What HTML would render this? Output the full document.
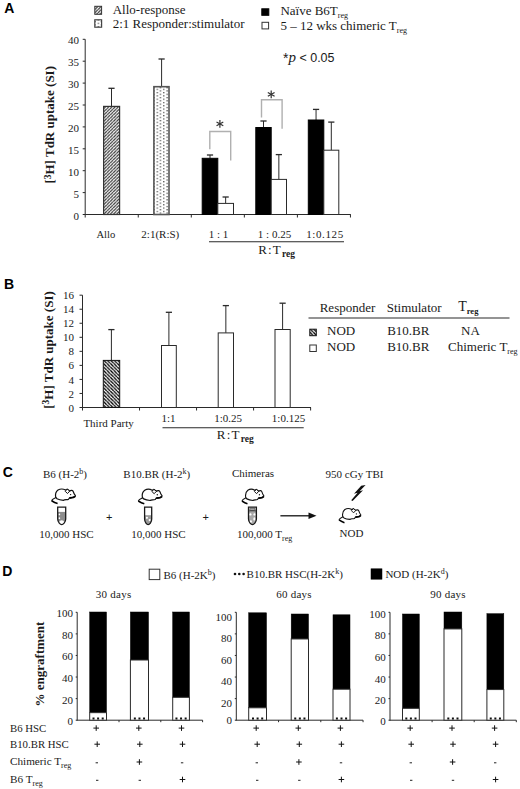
<!DOCTYPE html><html><head><meta charset="utf-8"><style>html,body{margin:0;padding:0;background:#fff;width:520px;height:789px;overflow:hidden}svg{display:block}</style></head><body>
<svg width="520" height="789" viewBox="0 0 520 789">
<defs>
<pattern id="hatchA" patternUnits="userSpaceOnUse" x="103.6" y="0" width="3.2" height="3.2"><rect width="3.2" height="3.2" fill="#fff"/><path d="M0.0,0 L-3.2,3.2 M3.2,0 L0,3.2 M6.4,0 L3.2,3.2 " stroke="#333" stroke-width="1.15" fill="none"/></pattern>
<pattern id="hatchA2" patternUnits="userSpaceOnUse" x="94.8" y="0" width="3.2" height="3.2"><rect width="3.2" height="3.2" fill="#fff"/><path d="M0.0,0 L-3.2,3.2 M3.2,0 L0,3.2 M6.4,0 L3.2,3.2 " stroke="#333" stroke-width="1.15" fill="none"/></pattern>
<pattern id="hatchB" patternUnits="userSpaceOnUse" x="103.3" y="0" width="3.46" height="3.46"><rect width="3.46" height="3.46" fill="#fff"/><path d="M-3.46,0 L0.0,3.46 M0,0 L3.46,3.46 M3.46,0 L6.92,3.46 " stroke="#000" stroke-width="1.35" fill="none"/></pattern>
<pattern id="hatchB2" patternUnits="userSpaceOnUse" x="309.8" y="0" width="3.46" height="3.46"><rect width="3.46" height="3.46" fill="#fff"/><path d="M-3.46,0 L0.0,3.46 M0,0 L3.46,3.46 M3.46,0 L6.92,3.46 " stroke="#000" stroke-width="1.35" fill="none"/></pattern>
<pattern id="dots" patternUnits="userSpaceOnUse" x="156.6" y="88.7" width="6.55" height="3.3"><rect width="6.55" height="3.3" fill="#fff"/><rect x="0" y="0" width="1.3" height="1.2" fill="#4a4a4a"/><rect x="3.27" y="1.65" width="1.3" height="1.2" fill="#4a4a4a"/></pattern>
</defs>
<rect width="520" height="789" fill="#fff"/>
<text x="4.3" y="12.9" style="font-family:'Liberation Sans',sans-serif;font-size:14px;font-weight:bold" text-anchor="start" fill="#000" >A</text>
<rect x="94.8" y="6.3" width="6.8" height="8.0" fill="url(#hatchA2)" stroke="#333" stroke-width="1"/>
<text x="112.7" y="13.8" style="font-family:'Liberation Serif',serif;font-size:13px;font-weight:normal" text-anchor="start" fill="#1a1a1a" >Allo-response</text>
<rect x="94.8" y="19.8" width="6.8" height="7.4" fill="url(#dots)" stroke="#444" stroke-width="1.2"/>
<text x="112.7" y="27.7" style="font-family:'Liberation Serif',serif;font-size:13px;font-weight:normal" text-anchor="start" fill="#1a1a1a" >2:1 Responder:stimulator</text>
<rect x="261.8" y="8.8" width="7" height="6.5" fill="#000" stroke="#000" stroke-width="1"/>
<text x="280.4" y="15.4" style="font-family:'Liberation Serif',serif;font-size:13px;font-weight:normal" text-anchor="start" fill="#1a1a1a" >Naïve B6T<tspan dy="3" style="font-size:8px">reg</tspan></text>
<rect x="262" y="22.3" width="6.6" height="6.6" fill="#fff" stroke="#333" stroke-width="1"/>
<text x="280.4" y="30.0" style="font-family:'Liberation Serif',serif;font-size:13px;font-weight:normal" text-anchor="start" fill="#1a1a1a" >5 – 12 wks chimeric  T<tspan dy="3" style="font-size:8px">reg</tspan></text>
<text x="283" y="61.5" style="font-family:'Liberation Sans',sans-serif;font-size:12.5px;font-weight:normal" text-anchor="start" fill="#1a1a1a" ><tspan style="font-size:14px" dy="1">*</tspan><tspan dy="-1" style="font-style:italic;font-family:'Liberation Serif',serif;font-size:15px">p</tspan> &lt; 0.05</text>
<line x1="85.2" y1="39.3" x2="85.2" y2="215.0" stroke="#2a2a2a" stroke-width="1"/>
<line x1="85.2" y1="214.5" x2="350.8" y2="214.5" stroke="#2a2a2a" stroke-width="1"/>
<line x1="82.7" y1="214.5" x2="85.2" y2="214.5" stroke="#2a2a2a" stroke-width="1"/>
<text x="79" y="219.5" style="font-family:'Liberation Serif',serif;font-size:11px;font-weight:normal" text-anchor="end" fill="#1a1a1a" >0</text>
<line x1="82.7" y1="192.6" x2="85.2" y2="192.6" stroke="#2a2a2a" stroke-width="1"/>
<text x="79" y="197.6" style="font-family:'Liberation Serif',serif;font-size:11px;font-weight:normal" text-anchor="end" fill="#1a1a1a" >5</text>
<line x1="82.7" y1="170.7" x2="85.2" y2="170.7" stroke="#2a2a2a" stroke-width="1"/>
<text x="79" y="175.7" style="font-family:'Liberation Serif',serif;font-size:11px;font-weight:normal" text-anchor="end" fill="#1a1a1a" >10</text>
<line x1="82.7" y1="148.8" x2="85.2" y2="148.8" stroke="#2a2a2a" stroke-width="1"/>
<text x="79" y="153.8" style="font-family:'Liberation Serif',serif;font-size:11px;font-weight:normal" text-anchor="end" fill="#1a1a1a" >15</text>
<line x1="82.7" y1="126.9" x2="85.2" y2="126.9" stroke="#2a2a2a" stroke-width="1"/>
<text x="79" y="131.9" style="font-family:'Liberation Serif',serif;font-size:11px;font-weight:normal" text-anchor="end" fill="#1a1a1a" >20</text>
<line x1="82.7" y1="105.0" x2="85.2" y2="105.0" stroke="#2a2a2a" stroke-width="1"/>
<text x="79" y="110.0" style="font-family:'Liberation Serif',serif;font-size:11px;font-weight:normal" text-anchor="end" fill="#1a1a1a" >25</text>
<line x1="82.7" y1="83.1" x2="85.2" y2="83.1" stroke="#2a2a2a" stroke-width="1"/>
<text x="79" y="88.1" style="font-family:'Liberation Serif',serif;font-size:11px;font-weight:normal" text-anchor="end" fill="#1a1a1a" >30</text>
<line x1="82.7" y1="61.2" x2="85.2" y2="61.2" stroke="#2a2a2a" stroke-width="1"/>
<text x="79" y="66.2" style="font-family:'Liberation Serif',serif;font-size:11px;font-weight:normal" text-anchor="end" fill="#1a1a1a" >35</text>
<line x1="82.7" y1="39.3" x2="85.2" y2="39.3" stroke="#2a2a2a" stroke-width="1"/>
<text x="79" y="44.3" style="font-family:'Liberation Serif',serif;font-size:11px;font-weight:normal" text-anchor="end" fill="#1a1a1a" >40</text>
<line x1="85.2" y1="214.5" x2="85.2" y2="217.5" stroke="#2a2a2a" stroke-width="1"/>
<line x1="138.25" y1="214.5" x2="138.25" y2="217.5" stroke="#2a2a2a" stroke-width="1"/>
<line x1="191.3" y1="214.5" x2="191.3" y2="217.5" stroke="#2a2a2a" stroke-width="1"/>
<line x1="244.35" y1="214.5" x2="244.35" y2="217.5" stroke="#2a2a2a" stroke-width="1"/>
<line x1="297.4" y1="214.5" x2="297.4" y2="217.5" stroke="#2a2a2a" stroke-width="1"/>
<line x1="350.45" y1="214.5" x2="350.45" y2="217.5" stroke="#2a2a2a" stroke-width="1"/>
<text transform="translate(54.3,124.8) rotate(-90)" text-anchor="middle" style="font-family:'Liberation Serif',serif;font-size:13px;font-weight:bold" fill="#1a1a1a">[<tspan dy="-3.5" style="font-size:9.5px">3</tspan><tspan dy="3.5">H] TdR uptake (SI)</tspan></text>
<line x1="111.5" y1="106.4" x2="111.5" y2="88.3" stroke="#2a2a2a" stroke-width="1"/>
<line x1="108.4" y1="88.3" x2="114.6" y2="88.3" stroke="#2a2a2a" stroke-width="1.3"/>
<rect x="103.6" y="106.4" width="16.0" height="108.1" fill="url(#hatchA)" stroke="#333" stroke-width="1.2"/>
<line x1="161.6" y1="86.7" x2="161.6" y2="59" stroke="#2a2a2a" stroke-width="1"/>
<line x1="158.5" y1="59" x2="164.7" y2="59" stroke="#2a2a2a" stroke-width="1.3"/>
<rect x="153.9" y="86.7" width="15.1" height="127.8" fill="url(#dots)" stroke="#555" stroke-width="1.6"/>
<line x1="210.0" y1="158.3" x2="210.0" y2="155" stroke="#2a2a2a" stroke-width="1"/>
<line x1="206.9" y1="155" x2="213.1" y2="155" stroke="#2a2a2a" stroke-width="1.3"/>
<line x1="225.65" y1="203.4" x2="225.65" y2="197" stroke="#2a2a2a" stroke-width="1"/>
<line x1="222.55" y1="197" x2="228.75" y2="197" stroke="#2a2a2a" stroke-width="1.3"/>
<rect x="202.2" y="158.3" width="15.6" height="56.2" fill="#000" stroke="#000" stroke-width="1"/>
<rect x="217.8" y="203.4" width="15.7" height="11.1" fill="#fff" stroke="#2a2a2a" stroke-width="1"/>
<line x1="263.5" y1="127.5" x2="263.5" y2="121" stroke="#2a2a2a" stroke-width="1"/>
<line x1="260.4" y1="121" x2="266.6" y2="121" stroke="#2a2a2a" stroke-width="1.3"/>
<line x1="278.85" y1="179.4" x2="278.85" y2="154.6" stroke="#2a2a2a" stroke-width="1"/>
<line x1="275.75" y1="154.6" x2="281.95000000000005" y2="154.6" stroke="#2a2a2a" stroke-width="1.3"/>
<rect x="255.8" y="127.5" width="15.4" height="87.0" fill="#000" stroke="#000" stroke-width="1"/>
<rect x="271.2" y="179.4" width="15.3" height="35.1" fill="#fff" stroke="#2a2a2a" stroke-width="1"/>
<line x1="316.05" y1="120" x2="316.05" y2="109.4" stroke="#2a2a2a" stroke-width="1"/>
<line x1="312.95" y1="109.4" x2="319.15000000000003" y2="109.4" stroke="#2a2a2a" stroke-width="1.3"/>
<line x1="331.3" y1="150.2" x2="331.3" y2="122.1" stroke="#2a2a2a" stroke-width="1"/>
<line x1="328.2" y1="122.1" x2="334.40000000000003" y2="122.1" stroke="#2a2a2a" stroke-width="1.3"/>
<rect x="308.3" y="120" width="15.5" height="94.5" fill="#000" stroke="#000" stroke-width="1"/>
<rect x="323.8" y="150.2" width="15.0" height="64.3" fill="#fff" stroke="#2a2a2a" stroke-width="1"/>
<polyline points="209.8,149.2 209.8,131.5 230.7,131.5 230.7,160.5" fill="none" stroke="#b0b0b0" stroke-width="1.4"/>
<polyline points="261.5,117.5 261.5,99.8 282.1,99.8 282.1,128.7" fill="none" stroke="#b0b0b0" stroke-width="1.4"/>
<line x1="219.9" y1="120.0" x2="219.9" y2="127.8" stroke="#333" stroke-width="1.2"/>
<line x1="216.52" y1="121.95" x2="223.28" y2="125.85" stroke="#333" stroke-width="1.2"/>
<line x1="223.28" y1="121.95" x2="216.52" y2="125.85" stroke="#333" stroke-width="1.2"/>
<line x1="271.2" y1="90.5" x2="271.2" y2="98.3" stroke="#333" stroke-width="1.2"/>
<line x1="267.82" y1="92.45" x2="274.58" y2="96.35" stroke="#333" stroke-width="1.2"/>
<line x1="274.58" y1="92.45" x2="267.82" y2="96.35" stroke="#333" stroke-width="1.2"/>
<text x="105.8" y="237.7" style="font-family:'Liberation Serif',serif;font-size:10.6px;font-weight:normal" text-anchor="middle" fill="#1a1a1a" >Allo</text>
<text x="160.3" y="237.7" style="font-family:'Liberation Serif',serif;font-size:11px;font-weight:normal" text-anchor="middle" fill="#1a1a1a" >2:1(R:S)</text>
<text x="218.5" y="238" style="font-family:'Liberation Serif',serif;font-size:11px;font-weight:normal" text-anchor="middle" fill="#1a1a1a" >1 : 1</text>
<text x="274.5" y="238" style="font-family:'Liberation Serif',serif;font-size:11px;font-weight:normal" text-anchor="middle" fill="#1a1a1a" >1 : 0.25</text>
<text x="325" y="238" style="font-family:'Liberation Serif',serif;font-size:11px;font-weight:normal" text-anchor="middle" fill="#1a1a1a" ><tspan style="letter-spacing:0.6px">1:0.125</tspan></text>
<line x1="209" y1="241.8" x2="344" y2="241.8" stroke="#2a2a2a" stroke-width="1.1"/>
<text x="258.2" y="254.4" style="font-family:'Liberation Serif',serif;font-size:13px;font-weight:normal" text-anchor="start" fill="#1a1a1a" ><tspan style="letter-spacing:1.2px">R:T</tspan><tspan dy="3" style="font-size:9.5px;font-weight:bold">reg</tspan></text>
<text x="4" y="288.8" style="font-family:'Liberation Sans',sans-serif;font-size:14px;font-weight:bold" text-anchor="start" fill="#000" >B</text>
<line x1="82.5" y1="295.2" x2="82.5" y2="408.0" stroke="#2a2a2a" stroke-width="1"/>
<line x1="82.5" y1="407.5" x2="311" y2="407.5" stroke="#2a2a2a" stroke-width="1"/>
<line x1="79.5" y1="407.5" x2="82.5" y2="407.5" stroke="#2a2a2a" stroke-width="1"/>
<text x="74" y="411.6" style="font-family:'Liberation Serif',serif;font-size:11px;font-weight:normal" text-anchor="end" fill="#1a1a1a" >0</text>
<line x1="79.5" y1="393.46" x2="82.5" y2="393.46" stroke="#2a2a2a" stroke-width="1"/>
<text x="74" y="397.56" style="font-family:'Liberation Serif',serif;font-size:11px;font-weight:normal" text-anchor="end" fill="#1a1a1a" >2</text>
<line x1="79.5" y1="379.42" x2="82.5" y2="379.42" stroke="#2a2a2a" stroke-width="1"/>
<text x="74" y="383.52" style="font-family:'Liberation Serif',serif;font-size:11px;font-weight:normal" text-anchor="end" fill="#1a1a1a" >4</text>
<line x1="79.5" y1="365.38" x2="82.5" y2="365.38" stroke="#2a2a2a" stroke-width="1"/>
<text x="74" y="369.48" style="font-family:'Liberation Serif',serif;font-size:11px;font-weight:normal" text-anchor="end" fill="#1a1a1a" >6</text>
<line x1="79.5" y1="351.34" x2="82.5" y2="351.34" stroke="#2a2a2a" stroke-width="1"/>
<text x="74" y="355.44" style="font-family:'Liberation Serif',serif;font-size:11px;font-weight:normal" text-anchor="end" fill="#1a1a1a" >8</text>
<line x1="79.5" y1="337.3" x2="82.5" y2="337.3" stroke="#2a2a2a" stroke-width="1"/>
<text x="74" y="341.4" style="font-family:'Liberation Serif',serif;font-size:11px;font-weight:normal" text-anchor="end" fill="#1a1a1a" >10</text>
<line x1="79.5" y1="323.26" x2="82.5" y2="323.26" stroke="#2a2a2a" stroke-width="1"/>
<text x="74" y="327.36" style="font-family:'Liberation Serif',serif;font-size:11px;font-weight:normal" text-anchor="end" fill="#1a1a1a" >12</text>
<line x1="79.5" y1="309.22" x2="82.5" y2="309.22" stroke="#2a2a2a" stroke-width="1"/>
<text x="74" y="313.32" style="font-family:'Liberation Serif',serif;font-size:11px;font-weight:normal" text-anchor="end" fill="#1a1a1a" >14</text>
<line x1="79.5" y1="295.18" x2="82.5" y2="295.18" stroke="#2a2a2a" stroke-width="1"/>
<text x="74" y="299.28" style="font-family:'Liberation Serif',serif;font-size:11px;font-weight:normal" text-anchor="end" fill="#1a1a1a" >16</text>
<line x1="82.5" y1="407.5" x2="82.5" y2="410.5" stroke="#2a2a2a" stroke-width="1"/>
<line x1="139.53" y1="407.5" x2="139.53" y2="410.5" stroke="#2a2a2a" stroke-width="1"/>
<line x1="196.56" y1="407.5" x2="196.56" y2="410.5" stroke="#2a2a2a" stroke-width="1"/>
<line x1="253.59" y1="407.5" x2="253.59" y2="410.5" stroke="#2a2a2a" stroke-width="1"/>
<line x1="310.62" y1="407.5" x2="310.62" y2="410.5" stroke="#2a2a2a" stroke-width="1"/>
<text transform="translate(52.5,350) rotate(-90)" text-anchor="middle" style="font-family:'Liberation Serif',serif;font-size:13px;font-weight:bold" fill="#1a1a1a">[<tspan dy="-3.5" style="font-size:9.5px">3</tspan><tspan dy="3.5">H] TdR uptake (SI)</tspan></text>
<line x1="111.4" y1="360.4" x2="111.4" y2="329.6" stroke="#2a2a2a" stroke-width="1"/>
<line x1="108.30000000000001" y1="329.6" x2="114.5" y2="329.6" stroke="#2a2a2a" stroke-width="1.3"/>
<rect x="103.3" y="360.4" width="16.4" height="47.1" fill="url(#hatchB)" stroke="#111" stroke-width="1"/>
<line x1="168.9" y1="345.5" x2="168.9" y2="312.3" stroke="#2a2a2a" stroke-width="1"/>
<line x1="165.8" y1="312.3" x2="172.0" y2="312.3" stroke="#2a2a2a" stroke-width="1.3"/>
<rect x="161.5" y="345.5" width="14.8" height="62.0" fill="#fff" stroke="#2a2a2a" stroke-width="1"/>
<line x1="225.85" y1="332.9" x2="225.85" y2="305.6" stroke="#2a2a2a" stroke-width="1"/>
<line x1="222.75" y1="305.6" x2="228.95" y2="305.6" stroke="#2a2a2a" stroke-width="1.3"/>
<rect x="218.2" y="332.9" width="15.3" height="74.6" fill="#fff" stroke="#2a2a2a" stroke-width="1"/>
<line x1="282.6" y1="329.5" x2="282.6" y2="303.2" stroke="#2a2a2a" stroke-width="1"/>
<line x1="279.5" y1="303.2" x2="285.70000000000005" y2="303.2" stroke="#2a2a2a" stroke-width="1.3"/>
<rect x="275" y="329.5" width="15.2" height="78.0" fill="#fff" stroke="#2a2a2a" stroke-width="1"/>
<text x="108.6" y="427" style="font-family:'Liberation Serif',serif;font-size:11px;font-weight:normal" text-anchor="middle" fill="#1a1a1a" >Third Party</text>
<text x="168.5" y="421.5" style="font-family:'Liberation Serif',serif;font-size:11px;font-weight:normal" text-anchor="middle" fill="#1a1a1a" >1:1</text>
<text x="228.2" y="421.5" style="font-family:'Liberation Serif',serif;font-size:11px;font-weight:normal" text-anchor="middle" fill="#1a1a1a" >1:0.25</text>
<text x="288.5" y="421.5" style="font-family:'Liberation Serif',serif;font-size:11px;font-weight:normal" text-anchor="middle" fill="#1a1a1a" >1:0.125</text>
<line x1="162.5" y1="427.7" x2="303.7" y2="427.7" stroke="#2a2a2a" stroke-width="1.1"/>
<text x="216.8" y="438.8" style="font-family:'Liberation Serif',serif;font-size:13px;font-weight:normal" text-anchor="start" fill="#1a1a1a" ><tspan style="letter-spacing:1.2px">R:T</tspan><tspan dy="3" style="font-size:9.5px;font-weight:bold">reg</tspan></text>
<text x="319.7" y="311.5" style="font-family:'Liberation Serif',serif;font-size:13px;font-weight:normal" text-anchor="start" fill="#1a1a1a" >Responder</text>
<text x="386.7" y="311.5" style="font-family:'Liberation Serif',serif;font-size:13px;font-weight:normal" text-anchor="start" fill="#1a1a1a" >Stimulator</text>
<text x="458.2" y="310.9" style="font-family:'Liberation Serif',serif;font-size:14px;font-weight:normal" text-anchor="start" fill="#1a1a1a" >T<tspan dy="2.6" style="font-size:8.5px;font-weight:bold">reg</tspan></text>
<line x1="308.5" y1="318" x2="509.5" y2="318" stroke="#2a2a2a" stroke-width="1.2"/>
<rect x="309.8" y="329.2" width="6.5" height="6.5" fill="url(#hatchB2)" stroke="#111" stroke-width="1"/>
<text x="327" y="335.2" style="font-family:'Liberation Serif',serif;font-size:13px;font-weight:normal" text-anchor="start" fill="#1a1a1a" >NOD</text>
<text x="387.2" y="335.2" style="font-family:'Liberation Serif',serif;font-size:13px;font-weight:normal" text-anchor="start" fill="#1a1a1a" >B10.BR</text>
<text x="461" y="335.2" style="font-family:'Liberation Serif',serif;font-size:13px;font-weight:normal" text-anchor="start" fill="#1a1a1a" >NA</text>
<rect x="309.8" y="345" width="6.5" height="6.5" fill="#fff" stroke="#333" stroke-width="1"/>
<text x="327" y="351.2" style="font-family:'Liberation Serif',serif;font-size:13px;font-weight:normal" text-anchor="start" fill="#1a1a1a" >NOD</text>
<text x="387.2" y="351.2" style="font-family:'Liberation Serif',serif;font-size:13px;font-weight:normal" text-anchor="start" fill="#1a1a1a" >B10.BR</text>
<text x="448" y="351.2" style="font-family:'Liberation Serif',serif;font-size:13px;font-weight:normal" text-anchor="start" fill="#1a1a1a" >Chimeric T<tspan dy="3" style="font-size:8px">reg</tspan></text>
<text x="2.8" y="476.6" style="font-family:'Liberation Sans',sans-serif;font-size:14px;font-weight:bold" text-anchor="start" fill="#000" >C</text>
<text x="65" y="478.2" style="font-family:'Liberation Serif',serif;font-size:11px;font-weight:normal" text-anchor="middle" fill="#1a1a1a" >B6 (H-2<tspan dy="-4.5" style="font-size:8px">b</tspan><tspan dy="4.5">)</tspan></text>
<text x="156.8" y="478.2" style="font-family:'Liberation Serif',serif;font-size:11px;font-weight:normal" text-anchor="middle" fill="#1a1a1a" >B10.BR (H-2<tspan dy="-4.5" style="font-size:8px">k</tspan><tspan dy="4.5">)</tspan></text>
<text x="253" y="477.3" style="font-family:'Liberation Serif',serif;font-size:11px;font-weight:normal" text-anchor="middle" fill="#1a1a1a" >Chimeras</text>
<text x="354.5" y="477.7" style="font-family:'Liberation Serif',serif;font-size:11px;font-weight:normal" text-anchor="middle" fill="#1a1a1a" >950 cGy TBI</text>
<text x="66.5" y="537.9" style="font-family:'Liberation Serif',serif;font-size:11px;font-weight:normal" text-anchor="middle" fill="#1a1a1a" >10,000 HSC</text>
<text x="158.5" y="538" style="font-family:'Liberation Serif',serif;font-size:11px;font-weight:normal" text-anchor="middle" fill="#1a1a1a" >10,000 HSC</text>
<text x="264.6" y="537.5" style="font-family:'Liberation Serif',serif;font-size:11px;font-weight:normal" text-anchor="middle" fill="#1a1a1a" >100,000 T<tspan dy="3" style="font-size:8px">reg</tspan></text>
<text x="351.5" y="537.3" style="font-family:'Liberation Serif',serif;font-size:11px;font-weight:normal" text-anchor="middle" fill="#1a1a1a" >NOD</text>
<text x="109.2" y="520.5" style="font-family:'Liberation Sans',sans-serif;font-size:11px;font-weight:normal" text-anchor="middle" fill="#1a1a1a" >+</text>
<text x="205.8" y="520.5" style="font-family:'Liberation Sans',sans-serif;font-size:11px;font-weight:normal" text-anchor="middle" fill="#1a1a1a" >+</text>
<line x1="280.4" y1="515.8" x2="310" y2="515.8" stroke="#111" stroke-width="1.3"/>
<polygon points="316.5,515.8 308.5,512.6 308.5,519" fill="#111"/>
<g transform="translate(51.0,488.5) scale(1.0,1.0)"><path d="M4.7,8.7 C4.2,6 5,3 7,1.6 C9,0.4 12,0.2 14.5,1.6 L16.2,0.7 L18.8,2.5 C20,1.5 21.8,1.8 22.3,3.2 C22.8,4.8 23.5,6 24.4,7.2 C24.5,8 22,9.3 18.5,9.4 L17.5,10.8 C15,11.3 13.5,11 12.5,11.8 C10,11.6 7.5,11 6,10.2 Z" fill="#fff" stroke="#111" stroke-width="1.2"/><path d="M16.2,0.7 L14.2,2.8 L16.5,5 L18.8,2.5 Z" fill="#fff" stroke="#111" stroke-width="1"/><path d="M24.3,7.8 C23.5,8.8 21,9.4 18.5,9.5" fill="none" stroke="#000" stroke-width="1.8"/><circle cx="19.6" cy="6.1" r="0.7" fill="#111"/><path d="M5,9 C3,10 1.2,11 0.5,12.1" fill="none" stroke="#111" stroke-width="1.1"/><path d="M0.6,12.3 C2.5,13.5 4.5,14.5 6.6,15.1" fill="none" stroke="#000" stroke-width="1.6"/></g>
<g transform="translate(137.7,488.7) scale(1.0,1.0)"><path d="M4.7,8.7 C4.2,6 5,3 7,1.6 C9,0.4 12,0.2 14.5,1.6 L16.2,0.7 L18.8,2.5 C20,1.5 21.8,1.8 22.3,3.2 C22.8,4.8 23.5,6 24.4,7.2 C24.5,8 22,9.3 18.5,9.4 L17.5,10.8 C15,11.3 13.5,11 12.5,11.8 C10,11.6 7.5,11 6,10.2 Z" fill="#fff" stroke="#111" stroke-width="1.2"/><path d="M16.2,0.7 L14.2,2.8 L16.5,5 L18.8,2.5 Z" fill="#fff" stroke="#111" stroke-width="1"/><path d="M24.3,7.8 C23.5,8.8 21,9.4 18.5,9.5" fill="none" stroke="#000" stroke-width="1.8"/><circle cx="19.6" cy="6.1" r="0.7" fill="#111"/><path d="M5,9 C3,10 1.2,11 0.5,12.1" fill="none" stroke="#111" stroke-width="1.1"/><path d="M0.6,12.3 C2.5,13.5 4.5,14.5 6.6,15.1" fill="none" stroke="#000" stroke-width="1.6"/></g>
<g transform="translate(241.4,488.7) scale(0.92,1.0)"><path d="M4.7,8.7 C4.2,6 5,3 7,1.6 C9,0.4 12,0.2 14.5,1.6 L16.2,0.7 L18.8,2.5 C20,1.5 21.8,1.8 22.3,3.2 C22.8,4.8 23.5,6 24.4,7.2 C24.5,8 22,9.3 18.5,9.4 L17.5,10.8 C15,11.3 13.5,11 12.5,11.8 C10,11.6 7.5,11 6,10.2 Z" fill="#fff" stroke="#111" stroke-width="1.2"/><path d="M16.2,0.7 L14.2,2.8 L16.5,5 L18.8,2.5 Z" fill="#fff" stroke="#111" stroke-width="1"/><path d="M24.3,7.8 C23.5,8.8 21,9.4 18.5,9.5" fill="none" stroke="#000" stroke-width="1.8"/><circle cx="19.6" cy="6.1" r="0.7" fill="#111"/><path d="M5,9 C3,10 1.2,11 0.5,12.1" fill="none" stroke="#111" stroke-width="1.1"/><path d="M0.6,12.3 C2.5,13.5 4.5,14.5 6.6,15.1" fill="none" stroke="#000" stroke-width="1.6"/></g>
<g transform="translate(338.4,508.0) scale(0.92,0.97)"><path d="M4.7,8.7 C4.2,6 5,3 7,1.6 C9,0.4 12,0.2 14.5,1.6 L16.2,0.7 L18.8,2.5 C20,1.5 21.8,1.8 22.3,3.2 C22.8,4.8 23.5,6 24.4,7.2 C24.5,8 22,9.3 18.5,9.4 L17.5,10.8 C15,11.3 13.5,11 12.5,11.8 C10,11.6 7.5,11 6,10.2 Z" fill="#fff" stroke="#111" stroke-width="1.2"/><path d="M16.2,0.7 L14.2,2.8 L16.5,5 L18.8,2.5 Z" fill="#fff" stroke="#111" stroke-width="1"/><path d="M24.3,7.8 C23.5,8.8 21,9.4 18.5,9.5" fill="none" stroke="#000" stroke-width="1.8"/><circle cx="19.6" cy="6.1" r="0.7" fill="#111"/><path d="M5,9 C3,10 1.2,11 0.5,12.1" fill="none" stroke="#111" stroke-width="1.1"/><path d="M0.6,12.3 C2.5,13.5 4.5,14.5 6.6,15.1" fill="none" stroke="#000" stroke-width="1.6"/></g>
<clipPath id="tc57"><path d="M57.7,507.20000000000005 L65.7,507.20000000000005 L65.7,518.9 C65.7,522.4 62.900000000000006,524.6 61.7,524.6 C60.5,524.6 57.7,522.4 57.7,518.9 Z"/></clipPath>
<path d="M57.7,507.20000000000005 L65.7,507.20000000000005 L65.7,518.9 C65.7,522.4 62.900000000000006,524.6 61.7,524.6 C60.5,524.6 57.7,522.4 57.7,518.9 Z" fill="#fff"/>
<g clip-path="url(#tc57)">
<rect x="57.7" y="511.90000000000003" width="8.0" height="9.8" fill="#8c8c8c"/>
<circle cx="59.300000000000004" cy="514.4" r="0.9" fill="#fff"/><circle cx="59.300000000000004" cy="518.2" r="0.9" fill="#fff"/>
<ellipse cx="61.7" cy="521.8000000000001" rx="2.2" ry="1.6" fill="#fff"/>
</g>
<path d="M57.7,507.20000000000005 L65.7,507.20000000000005 L65.7,518.9 C65.7,522.4 62.900000000000006,524.6 61.7,524.6 C60.5,524.6 57.7,522.4 57.7,518.9 Z" fill="none" stroke="#1a1a1a" stroke-width="1.3"/>
<clipPath id="tc144"><path d="M144.6,507.20000000000005 L151.7,507.20000000000005 L151.7,518.9 C151.7,522.4 149.35,524.6 148.15,524.6 C146.95000000000002,524.6 144.6,522.4 144.6,518.9 Z"/></clipPath>
<path d="M144.6,507.20000000000005 L151.7,507.20000000000005 L151.7,518.9 C151.7,522.4 149.35,524.6 148.15,524.6 C146.95000000000002,524.6 144.6,522.4 144.6,518.9 Z" fill="#fff"/>
<g clip-path="url(#tc144)">
<rect x="144.6" y="515.2" width="7.1" height="10" fill="#9a9a9a"/>
<circle cx="146.9" cy="517.8000000000001" r="1.1" fill="#fff"/><circle cx="149.7" cy="520.1" r="1.1" fill="#fff"/>
</g>
<path d="M144.6,507.20000000000005 L151.7,507.20000000000005 L151.7,518.9 C151.7,522.4 149.35,524.6 148.15,524.6 C146.95000000000002,524.6 144.6,522.4 144.6,518.9 Z" fill="none" stroke="#1a1a1a" stroke-width="1.3"/>
<clipPath id="tc248"><path d="M248.5,507.20000000000005 L256.4,507.20000000000005 L256.4,518.9 C256.4,522.4 253.64999999999998,524.6 252.45,524.6 C251.25,524.6 248.5,522.4 248.5,518.9 Z"/></clipPath>
<path d="M248.5,507.20000000000005 L256.4,507.20000000000005 L256.4,518.9 C256.4,522.4 253.64999999999998,524.6 252.45,524.6 C251.25,524.6 248.5,522.4 248.5,518.9 Z" fill="#fff"/>
<g clip-path="url(#tc248)">
<rect x="248.5" y="511.6" width="7.9" height="13.0" fill="#a8a8a8"/>
<ellipse cx="250.3" cy="514.4" rx="1.2" ry="1.2" fill="#fff"/><ellipse cx="254.59999999999997" cy="514.4" rx="1.2" ry="1.2" fill="#fff"/>
<ellipse cx="254.39999999999998" cy="518.9" rx="1.1" ry="1.6" fill="#fff"/><ellipse cx="250.8" cy="521.6" rx="1.1" ry="1.4" fill="#fff"/>
</g>
<path d="M248.5,507.20000000000005 L256.4,507.20000000000005 L256.4,518.9 C256.4,522.4 253.64999999999998,524.6 252.45,524.6 C251.25,524.6 248.5,522.4 248.5,518.9 Z" fill="none" stroke="#1a1a1a" stroke-width="1.3"/>
<rect x="249.7" y="508.20000000000005" width="5.5" height="1.8" rx="0.9" fill="#fff" stroke="#333" stroke-width="0.9"/>
<line x1="248.5" y1="510.90000000000003" x2="256.4" y2="510.90000000000003" stroke="#222" stroke-width="1.1"/>
<polygon points="365.6,485.1 361.2,485.8 354,493.7 357.6,492.8 351.2,500.3 352.6,501 363.1,490.2 359.6,491.2" fill="#111"/>
<text x="2.2" y="575.6" style="font-family:'Liberation Sans',sans-serif;font-size:14px;font-weight:bold" text-anchor="start" fill="#000" >D</text>
<rect x="149.2" y="569.2" width="10.6" height="10.4" fill="#fff" stroke="#333" stroke-width="1"/>
<text x="163.5" y="579" style="font-family:'Liberation Serif',serif;font-size:11px;font-weight:normal" text-anchor="start" fill="#1a1a1a" >B6 (H-2K<tspan dy="-4" style="font-size:8px">b</tspan><tspan dy="4">)</tspan></text>
<circle cx="235.0" cy="574" r="1.3" fill="#111"/>
<circle cx="239.3" cy="574" r="1.3" fill="#111"/>
<circle cx="243.6" cy="574" r="1.3" fill="#111"/>
<text x="246.6" y="578" style="font-family:'Liberation Serif',serif;font-size:11px;font-weight:normal" text-anchor="start" fill="#1a1a1a" >B10.BR HSC(H-2K<tspan dy="-4" style="font-size:8px">k</tspan><tspan dy="4">)</tspan></text>
<rect x="371" y="568.8" width="11" height="10.4" fill="#000" stroke="#000" stroke-width="0.5"/>
<text x="385.4" y="578" style="font-family:'Liberation Serif',serif;font-size:11px;font-weight:normal" text-anchor="start" fill="#1a1a1a" >NOD (H-2K<tspan dy="-4" style="font-size:8px">d</tspan><tspan dy="4">)</tspan></text>
<text transform="translate(44.2,664) rotate(-90)" text-anchor="middle" style="font-family:'Liberation Serif',serif;font-size:13px;font-weight:bold" fill="#1a1a1a">% engraftment</text>
<text x="113.7" y="597.7" style="font-family:'Liberation Serif',serif;font-size:11px;font-weight:normal" text-anchor="middle" fill="#1a1a1a" ><tspan style="letter-spacing:0.25px">30 days</tspan></text>
<line x1="77.2" y1="612.3" x2="77.2" y2="720.7" stroke="#2a2a2a" stroke-width="1"/>
<line x1="77.2" y1="720.2" x2="202.6" y2="720.2" stroke="#2a2a2a" stroke-width="1"/>
<line x1="75.7" y1="720.2" x2="77.2" y2="720.2" stroke="#2a2a2a" stroke-width="1"/>
<text x="73.0" y="724.9" style="font-family:'Liberation Serif',serif;font-size:11px;font-weight:normal" text-anchor="end" fill="#1a1a1a" >0</text>
<line x1="75.7" y1="698.62" x2="77.2" y2="698.62" stroke="#2a2a2a" stroke-width="1"/>
<text x="73.0" y="703.52" style="font-family:'Liberation Serif',serif;font-size:11px;font-weight:normal" text-anchor="end" fill="#1a1a1a" >20</text>
<line x1="75.7" y1="677.04" x2="77.2" y2="677.04" stroke="#2a2a2a" stroke-width="1"/>
<text x="73.0" y="681.94" style="font-family:'Liberation Serif',serif;font-size:11px;font-weight:normal" text-anchor="end" fill="#1a1a1a" >40</text>
<line x1="75.7" y1="655.46" x2="77.2" y2="655.46" stroke="#2a2a2a" stroke-width="1"/>
<text x="73.0" y="660.36" style="font-family:'Liberation Serif',serif;font-size:11px;font-weight:normal" text-anchor="end" fill="#1a1a1a" >60</text>
<line x1="75.7" y1="633.88" x2="77.2" y2="633.88" stroke="#2a2a2a" stroke-width="1"/>
<text x="73.0" y="638.78" style="font-family:'Liberation Serif',serif;font-size:11px;font-weight:normal" text-anchor="end" fill="#1a1a1a" >80</text>
<line x1="75.7" y1="612.3" x2="77.2" y2="612.3" stroke="#2a2a2a" stroke-width="1"/>
<text x="73.0" y="617.2" style="font-family:'Liberation Serif',serif;font-size:11px;font-weight:normal" text-anchor="end" fill="#1a1a1a" >100</text>
<line x1="119.0" y1="720.2" x2="119.0" y2="722.2" stroke="#2a2a2a" stroke-width="1"/>
<line x1="160.8" y1="720.2" x2="160.8" y2="722.2" stroke="#2a2a2a" stroke-width="1"/>
<line x1="202.6" y1="720.2" x2="202.6" y2="722.2" stroke="#2a2a2a" stroke-width="1"/>
<rect x="89.7" y="612" width="16.8" height="100.65" fill="#000" stroke="#000" stroke-width="0.5"/>
<rect x="89.7" y="712.65" width="16.8" height="7.55" fill="#fff" stroke="#2a2a2a" stroke-width="1"/>
<rect x="92.5" y="717.5" width="2.0" height="2.0" fill="#111"/>
<rect x="97.1" y="717.5" width="2.0" height="2.0" fill="#111"/>
<rect x="101.7" y="717.5" width="2.0" height="2.0" fill="#111"/>
<rect x="130.4" y="612" width="18.1" height="47.99" fill="#000" stroke="#000" stroke-width="0.5"/>
<rect x="130.4" y="659.99" width="18.1" height="60.21" fill="#fff" stroke="#2a2a2a" stroke-width="1"/>
<rect x="133.85" y="717.5" width="2.0" height="2.0" fill="#111"/>
<rect x="138.45" y="717.5" width="2.0" height="2.0" fill="#111"/>
<rect x="143.05" y="717.5" width="2.0" height="2.0" fill="#111"/>
<rect x="172.7" y="612" width="16.7" height="85.33" fill="#000" stroke="#000" stroke-width="0.5"/>
<rect x="172.7" y="697.33" width="16.7" height="22.87" fill="#fff" stroke="#2a2a2a" stroke-width="1"/>
<rect x="175.45" y="717.5" width="2.0" height="2.0" fill="#111"/>
<rect x="180.05" y="717.5" width="2.0" height="2.0" fill="#111"/>
<rect x="184.65" y="717.5" width="2.0" height="2.0" fill="#111"/>
<text x="294" y="597.7" style="font-family:'Liberation Serif',serif;font-size:11px;font-weight:normal" text-anchor="middle" fill="#1a1a1a" ><tspan style="letter-spacing:0.25px">60 days</tspan></text>
<line x1="236.3" y1="612.3" x2="236.3" y2="720.7" stroke="#2a2a2a" stroke-width="1"/>
<line x1="236.3" y1="720.2" x2="363.05" y2="720.2" stroke="#2a2a2a" stroke-width="1"/>
<line x1="234.8" y1="720.2" x2="236.3" y2="720.2" stroke="#2a2a2a" stroke-width="1"/>
<text x="232.1" y="724.3" style="font-family:'Liberation Serif',serif;font-size:11px;font-weight:normal" text-anchor="end" fill="#1a1a1a" >0</text>
<line x1="234.8" y1="698.62" x2="236.3" y2="698.62" stroke="#2a2a2a" stroke-width="1"/>
<text x="232.1" y="706.92" style="font-family:'Liberation Serif',serif;font-size:11px;font-weight:normal" text-anchor="end" fill="#1a1a1a" >20</text>
<line x1="234.8" y1="677.04" x2="236.3" y2="677.04" stroke="#2a2a2a" stroke-width="1"/>
<text x="232.1" y="685.34" style="font-family:'Liberation Serif',serif;font-size:11px;font-weight:normal" text-anchor="end" fill="#1a1a1a" >40</text>
<line x1="234.8" y1="655.46" x2="236.3" y2="655.46" stroke="#2a2a2a" stroke-width="1"/>
<text x="232.1" y="663.76" style="font-family:'Liberation Serif',serif;font-size:11px;font-weight:normal" text-anchor="end" fill="#1a1a1a" >60</text>
<line x1="234.8" y1="633.88" x2="236.3" y2="633.88" stroke="#2a2a2a" stroke-width="1"/>
<text x="232.1" y="642.18" style="font-family:'Liberation Serif',serif;font-size:11px;font-weight:normal" text-anchor="end" fill="#1a1a1a" >80</text>
<line x1="234.8" y1="612.3" x2="236.3" y2="612.3" stroke="#2a2a2a" stroke-width="1"/>
<text x="232.1" y="620.6" style="font-family:'Liberation Serif',serif;font-size:11px;font-weight:normal" text-anchor="end" fill="#1a1a1a" >100</text>
<line x1="278.55" y1="720.2" x2="278.55" y2="722.2" stroke="#2a2a2a" stroke-width="1"/>
<line x1="320.8" y1="720.2" x2="320.8" y2="722.2" stroke="#2a2a2a" stroke-width="1"/>
<line x1="363.05" y1="720.2" x2="363.05" y2="722.2" stroke="#2a2a2a" stroke-width="1"/>
<rect x="248.7" y="612.8" width="17.8" height="94.99" fill="#000" stroke="#000" stroke-width="0.5"/>
<rect x="248.7" y="707.79" width="17.8" height="12.41" fill="#fff" stroke="#2a2a2a" stroke-width="1"/>
<rect x="252.0" y="717.5" width="2.0" height="2.0" fill="#111"/>
<rect x="256.6" y="717.5" width="2.0" height="2.0" fill="#111"/>
<rect x="261.2" y="717.5" width="2.0" height="2.0" fill="#111"/>
<rect x="291.2" y="614" width="17.3" height="24.95" fill="#000" stroke="#000" stroke-width="0.5"/>
<rect x="291.2" y="638.95" width="17.3" height="81.25" fill="#fff" stroke="#2a2a2a" stroke-width="1"/>
<rect x="294.25" y="717.5" width="2.0" height="2.0" fill="#111"/>
<rect x="298.85" y="717.5" width="2.0" height="2.0" fill="#111"/>
<rect x="303.45" y="717.5" width="2.0" height="2.0" fill="#111"/>
<rect x="333" y="614.8" width="17" height="74.43" fill="#000" stroke="#000" stroke-width="0.5"/>
<rect x="333" y="689.23" width="17" height="30.97" fill="#fff" stroke="#2a2a2a" stroke-width="1"/>
<rect x="335.9" y="717.5" width="2.0" height="2.0" fill="#111"/>
<rect x="340.5" y="717.5" width="2.0" height="2.0" fill="#111"/>
<rect x="345.1" y="717.5" width="2.0" height="2.0" fill="#111"/>
<text x="448" y="597.7" style="font-family:'Liberation Serif',serif;font-size:11px;font-weight:normal" text-anchor="middle" fill="#1a1a1a" ><tspan style="letter-spacing:0.25px">90 days</tspan></text>
<line x1="390.0" y1="612.3" x2="390.0" y2="720.7" stroke="#2a2a2a" stroke-width="1"/>
<line x1="390.0" y1="720.2" x2="516.3" y2="720.2" stroke="#2a2a2a" stroke-width="1"/>
<line x1="388.5" y1="720.2" x2="390.0" y2="720.2" stroke="#2a2a2a" stroke-width="1"/>
<text x="385.8" y="724.9" style="font-family:'Liberation Serif',serif;font-size:11px;font-weight:normal" text-anchor="end" fill="#1a1a1a" >0</text>
<line x1="388.5" y1="698.62" x2="390.0" y2="698.62" stroke="#2a2a2a" stroke-width="1"/>
<text x="385.8" y="704.12" style="font-family:'Liberation Serif',serif;font-size:11px;font-weight:normal" text-anchor="end" fill="#1a1a1a" >20</text>
<line x1="388.5" y1="677.04" x2="390.0" y2="677.04" stroke="#2a2a2a" stroke-width="1"/>
<text x="385.8" y="682.54" style="font-family:'Liberation Serif',serif;font-size:11px;font-weight:normal" text-anchor="end" fill="#1a1a1a" >40</text>
<line x1="388.5" y1="655.46" x2="390.0" y2="655.46" stroke="#2a2a2a" stroke-width="1"/>
<text x="385.8" y="660.96" style="font-family:'Liberation Serif',serif;font-size:11px;font-weight:normal" text-anchor="end" fill="#1a1a1a" >60</text>
<line x1="388.5" y1="633.88" x2="390.0" y2="633.88" stroke="#2a2a2a" stroke-width="1"/>
<text x="385.8" y="639.38" style="font-family:'Liberation Serif',serif;font-size:11px;font-weight:normal" text-anchor="end" fill="#1a1a1a" >80</text>
<line x1="388.5" y1="612.3" x2="390.0" y2="612.3" stroke="#2a2a2a" stroke-width="1"/>
<text x="385.8" y="617.8" style="font-family:'Liberation Serif',serif;font-size:11px;font-weight:normal" text-anchor="end" fill="#1a1a1a" >100</text>
<line x1="432.1" y1="720.2" x2="432.1" y2="722.2" stroke="#2a2a2a" stroke-width="1"/>
<line x1="474.2" y1="720.2" x2="474.2" y2="722.2" stroke="#2a2a2a" stroke-width="1"/>
<line x1="516.3" y1="720.2" x2="516.3" y2="722.2" stroke="#2a2a2a" stroke-width="1"/>
<rect x="402.5" y="614" width="16.8" height="94.33" fill="#000" stroke="#000" stroke-width="0.5"/>
<rect x="402.5" y="708.33" width="16.8" height="11.87" fill="#fff" stroke="#2a2a2a" stroke-width="1"/>
<rect x="405.3" y="717.5" width="2.0" height="2.0" fill="#111"/>
<rect x="409.9" y="717.5" width="2.0" height="2.0" fill="#111"/>
<rect x="414.5" y="717.5" width="2.0" height="2.0" fill="#111"/>
<rect x="444" y="612" width="17.8" height="16.92" fill="#000" stroke="#000" stroke-width="0.5"/>
<rect x="444" y="628.92" width="17.8" height="91.28" fill="#fff" stroke="#2a2a2a" stroke-width="1"/>
<rect x="447.3" y="717.5" width="2.0" height="2.0" fill="#111"/>
<rect x="451.9" y="717.5" width="2.0" height="2.0" fill="#111"/>
<rect x="456.5" y="717.5" width="2.0" height="2.0" fill="#111"/>
<rect x="486.9" y="613.7" width="16.9" height="75.86" fill="#000" stroke="#000" stroke-width="0.5"/>
<rect x="486.9" y="689.56" width="16.9" height="30.64" fill="#fff" stroke="#2a2a2a" stroke-width="1"/>
<rect x="489.75" y="717.5" width="2.0" height="2.0" fill="#111"/>
<rect x="494.35" y="717.5" width="2.0" height="2.0" fill="#111"/>
<rect x="498.95" y="717.5" width="2.0" height="2.0" fill="#111"/>
<text x="10" y="731.5" style="font-family:'Liberation Serif',serif;font-size:10.8px;font-weight:normal" text-anchor="start" fill="#1a1a1a" >B6 HSC</text>
<text x="10" y="748.2" style="font-family:'Liberation Serif',serif;font-size:10.8px;font-weight:normal" text-anchor="start" fill="#1a1a1a" >B10.BR HSC</text>
<text x="10" y="764.9" style="font-family:'Liberation Serif',serif;font-size:11.2px;font-weight:normal" text-anchor="start" fill="#1a1a1a" >Chimeric T<tspan dy="3" style="font-size:8px">reg</tspan></text>
<text x="10" y="782.8" style="font-family:'Liberation Serif',serif;font-size:11.2px;font-weight:normal" text-anchor="start" fill="#1a1a1a" >B6 T<tspan dy="3" style="font-size:8px">reg</tspan></text>
<line x1="93.4" y1="728.1" x2="99.0" y2="728.1" stroke="#111" stroke-width="1"/>
<line x1="96.2" y1="725.3000000000001" x2="96.2" y2="730.9" stroke="#111" stroke-width="1"/>
<line x1="136.0" y1="728.1" x2="141.60000000000002" y2="728.1" stroke="#111" stroke-width="1"/>
<line x1="138.8" y1="725.3000000000001" x2="138.8" y2="730.9" stroke="#111" stroke-width="1"/>
<line x1="178.7" y1="728.1" x2="184.3" y2="728.1" stroke="#111" stroke-width="1"/>
<line x1="181.5" y1="725.3000000000001" x2="181.5" y2="730.9" stroke="#111" stroke-width="1"/>
<line x1="94.4" y1="744.2" x2="100.0" y2="744.2" stroke="#111" stroke-width="1"/>
<line x1="97.2" y1="741.4000000000001" x2="97.2" y2="747.0" stroke="#111" stroke-width="1"/>
<line x1="137.0" y1="744.2" x2="142.60000000000002" y2="744.2" stroke="#111" stroke-width="1"/>
<line x1="139.8" y1="741.4000000000001" x2="139.8" y2="747.0" stroke="#111" stroke-width="1"/>
<line x1="179.7" y1="744.2" x2="185.3" y2="744.2" stroke="#111" stroke-width="1"/>
<line x1="182.5" y1="741.4000000000001" x2="182.5" y2="747.0" stroke="#111" stroke-width="1"/>
<line x1="95.6" y1="762.8" x2="98.0" y2="762.8" stroke="#222" stroke-width="1"/>
<line x1="136.6" y1="762" x2="142.20000000000002" y2="762" stroke="#111" stroke-width="1"/>
<line x1="139.4" y1="759.2" x2="139.4" y2="764.8" stroke="#111" stroke-width="1"/>
<line x1="180.9" y1="762.8" x2="183.29999999999998" y2="762.8" stroke="#222" stroke-width="1"/>
<line x1="96.0" y1="780.3" x2="98.4" y2="780.3" stroke="#222" stroke-width="1"/>
<line x1="138.60000000000002" y1="780.3" x2="141.0" y2="780.3" stroke="#222" stroke-width="1"/>
<line x1="179.7" y1="779.5" x2="185.3" y2="779.5" stroke="#111" stroke-width="1"/>
<line x1="182.5" y1="776.7" x2="182.5" y2="782.3" stroke="#111" stroke-width="1"/>
<line x1="253.39999999999998" y1="728.1" x2="259.0" y2="728.1" stroke="#111" stroke-width="1"/>
<line x1="256.2" y1="725.3000000000001" x2="256.2" y2="730.9" stroke="#111" stroke-width="1"/>
<line x1="295.5" y1="728.1" x2="301.1" y2="728.1" stroke="#111" stroke-width="1"/>
<line x1="298.3" y1="725.3000000000001" x2="298.3" y2="730.9" stroke="#111" stroke-width="1"/>
<line x1="337.59999999999997" y1="728.1" x2="343.2" y2="728.1" stroke="#111" stroke-width="1"/>
<line x1="340.4" y1="725.3000000000001" x2="340.4" y2="730.9" stroke="#111" stroke-width="1"/>
<line x1="254.39999999999998" y1="744.2" x2="260.0" y2="744.2" stroke="#111" stroke-width="1"/>
<line x1="257.2" y1="741.4000000000001" x2="257.2" y2="747.0" stroke="#111" stroke-width="1"/>
<line x1="296.5" y1="744.2" x2="302.1" y2="744.2" stroke="#111" stroke-width="1"/>
<line x1="299.3" y1="741.4000000000001" x2="299.3" y2="747.0" stroke="#111" stroke-width="1"/>
<line x1="338.59999999999997" y1="744.2" x2="344.2" y2="744.2" stroke="#111" stroke-width="1"/>
<line x1="341.4" y1="741.4000000000001" x2="341.4" y2="747.0" stroke="#111" stroke-width="1"/>
<line x1="255.60000000000002" y1="762.8" x2="258.0" y2="762.8" stroke="#222" stroke-width="1"/>
<line x1="296.1" y1="762" x2="301.70000000000005" y2="762" stroke="#111" stroke-width="1"/>
<line x1="298.90000000000003" y1="759.2" x2="298.90000000000003" y2="764.8" stroke="#111" stroke-width="1"/>
<line x1="339.8" y1="762.8" x2="342.2" y2="762.8" stroke="#222" stroke-width="1"/>
<line x1="256.0" y1="780.3" x2="258.4" y2="780.3" stroke="#222" stroke-width="1"/>
<line x1="298.1" y1="780.3" x2="300.5" y2="780.3" stroke="#222" stroke-width="1"/>
<line x1="338.59999999999997" y1="779.5" x2="344.2" y2="779.5" stroke="#111" stroke-width="1"/>
<line x1="341.4" y1="776.7" x2="341.4" y2="782.3" stroke="#111" stroke-width="1"/>
<line x1="407.4" y1="728.1" x2="413.0" y2="728.1" stroke="#111" stroke-width="1"/>
<line x1="410.2" y1="725.3000000000001" x2="410.2" y2="730.9" stroke="#111" stroke-width="1"/>
<line x1="449.2" y1="728.1" x2="454.8" y2="728.1" stroke="#111" stroke-width="1"/>
<line x1="452" y1="725.3000000000001" x2="452" y2="730.9" stroke="#111" stroke-width="1"/>
<line x1="491.8" y1="728.1" x2="497.40000000000003" y2="728.1" stroke="#111" stroke-width="1"/>
<line x1="494.6" y1="725.3000000000001" x2="494.6" y2="730.9" stroke="#111" stroke-width="1"/>
<line x1="408.4" y1="744.2" x2="414.0" y2="744.2" stroke="#111" stroke-width="1"/>
<line x1="411.2" y1="741.4000000000001" x2="411.2" y2="747.0" stroke="#111" stroke-width="1"/>
<line x1="450.2" y1="744.2" x2="455.8" y2="744.2" stroke="#111" stroke-width="1"/>
<line x1="453.0" y1="741.4000000000001" x2="453.0" y2="747.0" stroke="#111" stroke-width="1"/>
<line x1="492.8" y1="744.2" x2="498.40000000000003" y2="744.2" stroke="#111" stroke-width="1"/>
<line x1="495.6" y1="741.4000000000001" x2="495.6" y2="747.0" stroke="#111" stroke-width="1"/>
<line x1="409.6" y1="762.8" x2="412.0" y2="762.8" stroke="#222" stroke-width="1"/>
<line x1="449.8" y1="762" x2="455.40000000000003" y2="762" stroke="#111" stroke-width="1"/>
<line x1="452.6" y1="759.2" x2="452.6" y2="764.8" stroke="#111" stroke-width="1"/>
<line x1="494.00000000000006" y1="762.8" x2="496.40000000000003" y2="762.8" stroke="#222" stroke-width="1"/>
<line x1="410.0" y1="780.3" x2="412.4" y2="780.3" stroke="#222" stroke-width="1"/>
<line x1="451.8" y1="780.3" x2="454.2" y2="780.3" stroke="#222" stroke-width="1"/>
<line x1="492.8" y1="779.5" x2="498.40000000000003" y2="779.5" stroke="#111" stroke-width="1"/>
<line x1="495.6" y1="776.7" x2="495.6" y2="782.3" stroke="#111" stroke-width="1"/>
</svg></body></html>
